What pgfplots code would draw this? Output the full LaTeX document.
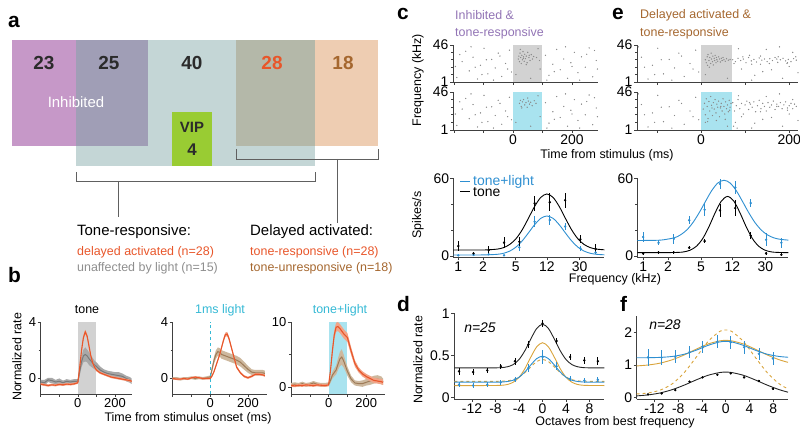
\documentclass[border=0pt]{standalone}
\usepackage{fontspec}
\setmainfont{Liberation Sans}
\usepackage{pgfplots}
\usepackage{pgfplotstable}
\pgfplotsset{compat=1.18}

\definecolor{cred}{HTML}{E8562A}
\definecolor{credband}{HTML}{F2A488}
\definecolor{cgreyline}{HTML}{7A7A7A}
\definecolor{cgreyband}{HTML}{A8A8A8}
\definecolor{cbrownline}{HTML}{9E7B58}
\definecolor{cbrownband}{HTML}{CDB89E}
\definecolor{ccyan}{HTML}{35B9D5}
\definecolor{ccyanbox}{HTML}{A9E3EF}
\definecolor{cboxgrey}{HTML}{D2D2D2}
\definecolor{cblue}{HTML}{2E8FD1}
\definecolor{cgold}{HTML}{D9A43C}
\definecolor{cpurptext}{HTML}{9274B5}
\definecolor{cbrowntext}{HTML}{A5672F}
\definecolor{cgreytext}{HTML}{8E8E8E}
\definecolor{cdot}{HTML}{8A8A8A}
\definecolor{cpurp}{HTML}{C698C8}
\definecolor{cover}{HTML}{A09EB6}
\definecolor{cteal}{HTML}{C4D6D6}
\definecolor{colive}{HTML}{B4B8A9}
\definecolor{cpeach}{HTML}{EECDB2}
\definecolor{cgreen}{HTML}{99CC33}
\definecolor{cline}{HTML}{606060}
\definecolor{cnum}{HTML}{2B2B2B}

\newcommand\fs[1]{\fontsize{#1}{#1}\selectfont}

\pgfplotsset{
  base/.style={scale only axis, anchor=south west, axis lines=left,
    axis line style={-, line width=0.6bp, black!75},
    tick align=outside, major tick length=3bp, minor tick length=2bp,
    tick style={line width=0.6bp, black!75},
    /pgf/number format/assume math mode=true,
    ticklabel style={font=\fs{14}, inner sep=1.5bp}},
  bax/.style={base, width=94bp, height=72bp, xmin=-200, xmax=300,
    ticklabel style={font=\fs{13}},
    xtick={-200,-100,0,100,200}, xticklabels={,,0,,200}},
  rax/.style={base, height=37bp, ymin=0, ymax=1, ytick={0,1}, yticklabels={1,46},
    minor ytick={0.2,0.4,0.6,0.8}},
  % frequency axis: x holds log10 of kHz
  tax/.style={base, width=151bp, height=79bp, ymin=-1, ymax=60,
    xtick={0,0.30103,0.69897,1.07918,1.47712}, xticklabels={1,2,5,12,30},
    ytick={0,60}, minor ytick={20,40}, ticklabel style={inner sep=1bp}},
  oax/.style={base, width=150bp, xmin=-15, xmax=10.5,
    xtick={-12,-8,-4,0,4,8}},
  errk/.style={only marks, mark=*, mark size=1bp, #1,
    error bars/y dir=both, error bars/y explicit, error bars/error mark=none,
    error bars/error bar style={line width=0.7bp}},
  fitline/.style={#1, line width=0.9bp, smooth, no marks},
  dots/.style={only marks, mark=*, mark size=0.4bp, cdot, mark options={draw=none, fill=cdot}},
  % band between (first stacked plot = lower edge, second = width, closed to it)
  lowedge/.style={draw=none, stack plots=y, forget plot},
  band/.style={fill=#1, draw=none, stack plots=y, forget plot},
}

% ---- panel b traces: time, red mean, red sem, other mean, other sem
\pgfplotstableread{
t r rs g gs
-200 -0.40 0.08 -0.25 0.15
-180 -0.45 0.08 -0.30 0.20
-160 -0.50 0.08 -0.10 0.15
-140 -0.45 0.08 -0.15 0.20
-120 -0.48 0.08 -0.25 0.15
-100 -0.42 0.08 -0.20 0.20
-80 -0.45 0.08 -0.30 0.15
-60 -0.40 0.08 -0.20 0.15
-40 -0.42 0.08 -0.25 0.15
-20 -0.38 0.08 -0.20 0.15
0 -0.30 0.08 -0.20 0.15
10 0.80 0.12 0.50 0.30
20 2.00 0.15 1.20 0.40
30 2.90 0.15 1.60 0.45
40 3.30 0.15 1.70 0.50
50 3.00 0.15 1.60 0.45
60 2.30 0.15 1.40 0.45
70 1.60 0.12 1.25 0.40
80 1.10 0.10 1.10 0.35
90 0.80 0.10 0.95 0.30
100 0.60 0.10 0.85 0.30
120 0.40 0.08 0.60 0.25
140 0.30 0.08 0.45 0.20
160 0.20 0.08 0.35 0.20
180 0.10 0.08 0.30 0.20
200 0.05 0.08 0.25 0.20
220 0.00 0.08 0.20 0.25
240 -0.05 0.08 0.15 0.20
260 -0.10 0.08 0.00 0.20
280 -0.15 0.08 -0.10 0.20
290 -0.20 0.08 -0.20 0.20
}\bone
\pgfplotstableread{
t r rs g gs
-200 0.00 0.06 0.00 0.10
-180 -0.05 0.06 0.00 0.10
-160 -0.05 0.06 -0.05 0.10
-140 0.00 0.06 0.00 0.10
-120 -0.05 0.06 0.00 0.10
-100 0.05 0.06 0.05 0.10
-80 0.10 0.06 0.00 0.10
-60 0.05 0.06 0.05 0.10
-40 0.00 0.06 0.00 0.10
-20 0.00 0.06 0.05 0.10
0 0.00 0.06 0.10 0.12
10 0.20 0.08 0.70 0.20
20 0.50 0.08 1.30 0.25
30 0.90 0.10 1.70 0.30
40 1.30 0.10 1.90 0.30
50 1.70 0.12 1.85 0.30
60 2.20 0.12 1.70 0.30
70 2.70 0.15 1.65 0.30
80 3.10 0.15 1.60 0.30
90 3.15 0.15 1.55 0.30
100 2.80 0.15 1.50 0.30
120 1.80 0.12 1.40 0.30
140 0.80 0.10 1.30 0.30
160 0.40 0.08 1.15 0.30
180 0.15 0.08 0.90 0.28
200 0.05 0.08 0.65 0.25
220 0.15 0.08 0.45 0.20
240 0.30 0.08 0.40 0.20
260 0.30 0.08 0.40 0.20
280 0.25 0.08 0.40 0.20
290 0.20 0.08 0.35 0.20
}\btwo
\pgfplotstableread{
t r rs g gs
-200 0.20 0.20 0.30 0.30
-180 0.15 0.20 0.40 0.30
-160 0.25 0.20 0.30 0.30
-140 0.20 0.20 0.50 0.30
-120 0.30 0.20 0.30 0.30
-100 0.25 0.20 0.40 0.30
-80 0.20 0.20 0.60 0.30
-60 0.30 0.20 0.40 0.30
-40 0.25 0.20 0.30 0.30
-20 0.20 0.20 0.30 0.30
0 0.30 0.20 0.40 0.30
10 2.50 0.40 1.00 0.40
20 5.50 0.60 1.80 0.50
30 8.00 0.70 2.20 0.60
40 9.20 0.70 2.60 0.70
50 9.30 0.70 3.50 0.90
60 9.00 0.70 4.30 1.10
70 8.60 0.70 4.60 1.20
80 8.20 0.70 4.00 1.00
90 7.90 0.70 3.20 0.80
100 7.60 0.70 2.40 0.70
120 5.50 0.60 1.20 0.50
140 3.60 0.50 0.60 0.40
160 2.60 0.40 0.50 0.40
180 2.00 0.40 0.50 0.50
200 1.60 0.40 0.70 0.50
220 1.30 0.40 0.90 0.60
240 1.00 0.40 1.10 0.60
260 0.90 0.40 1.20 0.60
280 0.80 0.40 1.00 0.60
290 0.70 0.40 0.80 0.50
}\bthree

% ---- raster dots (time, normalized frequency row)
\pgfplotstableread{
t y
-190 .12
-172 .55
-160 .83
-148 .30
-135 .67
-120 .08
-110 .45
-98 .91
-85 .22
-72 .61
-60 .38
-50 .78
-38 .15
-25 .50
-12 .86
-5 .27
110 .72
122 .18
135 .48
148 .88
160 .33
172 .62
185 .10
196 .52
208 .80
220 .25
232 .68
245 .40
258 .92
270 .14
282 .58
286 .35
-180 .74
-142 .95
-128 .40
-90 .60
-66 .05
-44 .70
-18 .35
115 .05
140 .28
178 .95
200 .42
226 .05
250 .75
276 .85
-195 .42
-105 .20
10 .20
85 .90
60 .10
92 .35
}\rbg
\pgfplotstableread{
t y
18 .62
20 .70
22 .55
24 .78
26 .66
28 .50
30 .72
32 .60
34 .82
36 .68
38 .56
40 .75
42 .63
45 .70
48 .52
50 .80
54 .66
58 .58
62 .74
66 .62
70 .69
25 .88
45 .47
35 .64
55 .72
80 .66
90 .58
}\rct
\pgfplotstableread{
t y
22 .70
25 .78
28 .62
32 .74
36 .80
40 .66
44 .72
48 .60
52 .76
56 .68
60 .73
65 .64
72 .77
78 .70
30 .58
50 .84
}\rcb
\pgfplotstableread{
t y
10 .60
12 .52
14 .68
15 .45
16 .74
18 .58
19 .40
20 .66
22 .50
23 .78
24 .62
26 .55
27 .70
28 .46
30 .64
31 .58
32 .72
34 .52
35 .66
36 .60
38 .56
40 .68
42 .62
44 .54
46 .64
48 .58
50 .66
52 .60
55 .56
58 .63
62 .59
66 .61
72 .60
78 .55
84 .64
90 .58
96 .62
102 .52
108 .66
114 .57
120 .61
126 .54
132 .65
138 .59
144 .62
150 .55
156 .63
162 .58
168 .66
174 .53
180 .60
186 .64
192 .57
198 .61
204 .55
210 .63
216 .59
75 .50
95 .68
115 .48
135 .70
155 .50
175 .68
195 .50
215 .68
}\ret
\pgfplotstableread{
t y
5 .55
8 .70
10 .40
12 .82
14 .62
16 .30
18 .75
20 .50
22 .88
24 .65
26 .38
28 .72
30 .55
32 .80
34 .45
36 .68
38 .60
40 .76
42 .35
44 .58
46 .70
48 .50
50 .82
52 .62
54 .42
56 .74
58 .56
60 .66
62 .48
64 .78
66 .60
68 .70
15 .22
35 .25
55 .28
25 .58
45 .62
65 .52
72 .72
76 .50
80 .64
84 .80
88 .56
92 .70
96 .42
100 .66
104 .76
108 .54
112 .68
116 .60
120 .74
124 .48
128 .64
132 .78
136 .56
140 .70
144 .62
148 .50
152 .72
156 .60
160 .66
164 .76
168 .54
172 .68
176 .62
180 .72
184 .56
188 .66
192 .74
196 .58
200 .64
204 .70
208 .56
212 .68
216 .62
74 .10
78 .20
82 .05
}\reb

% ---- tuning curves: measured points (f in kHz)
\pgfplotstableread{
f k ke b be
1 7.7 4 0.5 0.5
1.534 2.0 1 0.8 0.5
2.35 4.6 3 1.3 0.8
3.61 10.3 4 0.5 0.5
5.54 11.0 4 6.7 3
8.5 40.7 6 26.5 4
13.0 41.5 7 27.8 4
20.0 43.0 6 22.7 3
30.7 12.9 3 5.9 2
47 5.4 4 2.6 1
}\tunc
\pgfplotstableread{
f k ke b be
1 2.0 1 14.6 4
1.534 2.8 1 10.2 2
2.35 2.8 1 13.3 4
3.61 6.4 1 27.6 3
5.54 11.5 1.5 35.7 5
8.5 35.2 5 55.7 4
13.0 37.0 6 52.9 5
20.0 15.8 3 40.9 3
30.7 2.0 1 12.5 5
47 1.0 1 10.2 4
}\tune
% fitted curves
\pgfplotstableread{
f k b
0.87 4.60 0.80
1.5 4.60 0.80
2.12 4.67 0.85
3.0 5.33 1.31
3.57 6.50 2.12
4.24 8.96 3.83
5.05 13.4 6.91
6.0 20.2 11.65
7.13 29.0 17.75
8.49 38.2 24.13
10.09 45.2 29.03
12.0 47.9 30.9
14.27 45.2 29.03
16.97 38.2 24.13
20.18 29.0 17.75
24.0 20.2 11.65
28.5 13.4 6.91
33.9 8.96 3.83
40.4 6.50 2.12
48.0 5.33 1.31
60.0 4.78 0.92
}\fitc
\pgfplotstableread{
f k
0.85 2.60
1.31 2.60
1.86 2.61
2.63 2.77
3.12 3.20
3.71 4.51
4.41 7.55
5.25 13.4
6.24 22.5
7.42 33.3
8.83 42.4
10.5 46.0
12.49 42.4
14.85 33.3
17.66 22.5
21.0 13.4
24.97 7.55
29.7 4.51
35.3 3.20
42.0 2.77
57.0 2.60
}\fitek
\pgfplotstableread{
f b
0.85 12.0
1.19 12.04
1.68 12.35
2.375 14.05
2.82 16.25
3.36 20.0
3.99 25.7
4.75 33.3
5.65 41.9
6.72 50.3
7.99 56.3
9.5 58.5
11.3 56.3
13.43 50.3
15.98 41.9
19.0 33.3
22.6 25.7
26.9 20.0
31.9 16.25
38.0 14.05
45.2 12.9
57.0 12.26
}\fiteb

% ---- population tuning (octaves from BF)
\pgfplotstableread{
x k ke b be
-14.2 0.31 0.04 0.15 0.03
-11.8 0.30 0.04 0.14 0.03
-9.4 0.32 0.03 0.15 0.03
-7.1 0.37 0.03 0.18 0.03
-4.7 0.43 0.04 0.21 0.03
-2.4 0.63 0.04 0.35 0.05
0 0.88 0.04 0.48 0.08
2.4 0.67 0.04 0.37 0.05
4.7 0.48 0.04 0.22 0.03
7.1 0.44 0.04 0.20 0.03
9.4 0.43 0.05 0.21 0.03
}\popd
\pgfplotstableread{
x k gs gd b
-15 0.350 0.140 0.190 0.180
-10 0.350 0.140 0.190 0.180
-8 0.351 0.141 0.190 0.180
-7 0.353 0.143 0.192 0.182
-6 0.363 0.152 0.196 0.188
-5 0.389 0.179 0.210 0.203
-4 0.449 0.237 0.240 0.239
-3 0.555 0.341 0.293 0.302
-2 0.694 0.478 0.362 0.385
-1 0.819 0.600 0.425 0.460
0 0.870 0.650 0.450 0.490
1 0.819 0.600 0.425 0.460
2 0.694 0.478 0.362 0.385
3 0.555 0.341 0.293 0.302
4 0.449 0.237 0.240 0.239
5 0.389 0.179 0.210 0.203
6 0.363 0.152 0.196 0.188
7 0.353 0.143 0.192 0.182
8 0.351 0.141 0.190 0.180
10.5 0.350 0.140 0.190 0.180
}\fitd
\pgfplotstableread{
x k ke b be
-13.1 0.10 0.02 1.23 0.25
-10.8 0.13 0.02 1.23 0.22
-8.5 0.23 0.02 1.25 0.20
-6.1 0.49 0.02 1.39 0.18
-3.9 0.62 0.02 1.56 0.18
-1.4 0.70 0.02 1.71 0.20
0.85 0.74 0.02 1.69 0.20
3.1 0.62 0.02 1.54 0.20
5.6 0.51 0.02 1.34 0.18
7.95 0.27 0.02 1.20 0.20
}\popf
\pgfplotstableread{
x k b gs gd
-15 0.054 1.220 0.970 0.113
-13 0.086 1.222 1.000 0.146
-11 0.146 1.232 1.058 0.234
-9 0.246 1.260 1.160 0.425
-7 0.383 1.328 1.306 0.764
-5 0.541 1.449 1.480 1.230
-3 0.683 1.598 1.640 1.713
-1 0.769 1.705 1.737 2.027
0 0.780 1.720 1.750 2.070
1 0.769 1.705 1.737 2.027
3 0.683 1.598 1.640 1.713
5 0.541 1.449 1.480 1.230
7 0.383 1.328 1.306 0.764
9 0.246 1.260 1.160 0.425
10.5 0.167 1.236 1.080 0.270
}\fitf

\begin{document}
\begin{tikzpicture}[x=1bp, y=1bp, tx/.style={inner sep=0pt}]
\path[use as bounding box] (0,0) rectangle (800,437);

% ================= panel a =================
\fill[cteal] (76,271) rectangle (315,397);
\fill[cpurp] (12,291) rectangle (76,397);
\fill[cover] (76,291) rectangle (148,397);
\fill[colive] (236,291) rectangle (315,397);
\fill[cpeach] (315,291) rectangle (378,397);
\fill[cgreen] (172,271) rectangle (212,325);
\draw[cline, line width=0.8bp] (76,265) -- (76,256) -- (315,256) -- (315,265);
\draw[cline, line width=0.8bp] (118,256) -- (118,220);
\draw[cline, line width=0.8bp] (236,288) -- (236,278) -- (378,278) -- (378,288);
\draw[cline, line width=0.8bp] (337,278) -- (337,214);
\node[tx, font=\bfseries\fs{19}, text=cnum] at (44,374) {23};
\node[tx, font=\bfseries\fs{19}, text=cnum] at (109,374) {25};
\node[tx, font=\bfseries\fs{19}, text=cnum] at (192,374) {40};
\node[tx, font=\bfseries\fs{19}, text=cred] at (272,374) {28};
\node[tx, font=\bfseries\fs{19}, text=cbrowntext] at (343,374) {18};
\node[tx, font=\fs{15}, text=white] at (76,335) {Inhibited};
\node[tx, font=\bfseries\fs{15}, text=cnum] at (192,310) {VIP};
\node[tx, font=\bfseries\fs{17}, text=cnum] at (192,287) {4};
\node[tx, anchor=west, font=\fs{15}] at (77,205) {Tone-responsive:};
\node[tx, anchor=west, font=\fs{12.5}, text=cred] at (77,185) {delayed activated (n=28)};
\node[tx, anchor=west, font=\fs{12.5}, text=cgreytext] at (77,169) {unaffected by light (n=15)};
\node[tx, anchor=west, font=\fs{15}] at (250,205) {Delayed activated:};
\node[tx, anchor=west, font=\fs{12.5}, text=cred] at (250,185) {tone-responsive (n=28)};
\node[tx, anchor=west, font=\fs{12.5}, text=cbrowntext] at (250,169) {tone-unresponsive (n=18)};

% panel letters
\node[tx, anchor=base west, font=\bfseries\fs{21}] at (8,409) {a};
\node[tx, anchor=base west, font=\bfseries\fs{21}] at (8,154) {b};
\node[tx, anchor=base west, font=\bfseries\fs{21}] at (397,417) {c};
\node[tx, anchor=base west, font=\bfseries\fs{21}] at (612,417) {e};
\node[tx, anchor=base west, font=\bfseries\fs{21}] at (397,125) {d};
\node[tx, anchor=base west, font=\bfseries\fs{21}] at (620,125) {f};

% ================= panel b =================
\begin{axis}[bax, at={(40.7bp,43bp)}, width=91bp, xmax=290, ymin=-1.1, ymax=4,
  ytick={0,4}, minor ytick={2}]
\addplot[fill=cboxgrey, draw=none] coordinates {(0,-1.1) (100,-1.1) (100,4) (0,4)};
\addplot[lowedge] table[x=t, y expr=\thisrow{g}-\thisrow{gs}] {\bone};
\addplot[band=cgreyband] table[x=t, y expr=2*\thisrow{gs}] {\bone} \closedcycle;
\addplot[cgreyline, line width=1bp] table[x=t, y=g] {\bone};
\addplot[lowedge] table[x=t, y expr=\thisrow{r}-\thisrow{rs}-\thisrow{g}-\thisrow{gs}] {\bone};
\addplot[band=credband] table[x=t, y expr=2*\thisrow{rs}] {\bone} \closedcycle;
\addplot[cred, line width=1.1bp] table[x=t, y=r] {\bone};
\end{axis}
\begin{axis}[bax, at={(172.7bp,43bp)}, ymin=-1.1, ymax=4, ytick={0,4}, minor ytick={2}]
\addplot[lowedge] table[x=t, y expr=\thisrow{g}-\thisrow{gs}] {\btwo};
\addplot[band=cbrownband] table[x=t, y expr=2*\thisrow{gs}] {\btwo} \closedcycle;
\addplot[cbrownline, line width=1bp] table[x=t, y=g] {\btwo};
\addplot[lowedge] table[x=t, y expr=\thisrow{r}-\thisrow{rs}-\thisrow{g}-\thisrow{gs}] {\btwo};
\addplot[band=credband] table[x=t, y expr=2*\thisrow{rs}] {\btwo} \closedcycle;
\addplot[cred, line width=1.1bp] table[x=t, y=r] {\btwo};
\addplot[ccyan, dashed, line width=1bp] coordinates {(0,-1.1) (0,4)};
\end{axis}
\begin{axis}[bax, at={(291bp,43bp)}, ymin=-1.1, ymax=10, ytick={0,10}, minor ytick={5}]
\addplot[fill=ccyanbox, draw=none] coordinates {(0,-1.1) (100,-1.1) (100,10) (0,10)};
\addplot[lowedge] table[x=t, y expr=\thisrow{g}-\thisrow{gs}] {\bthree};
\addplot[band=cbrownband] table[x=t, y expr=2*\thisrow{gs}] {\bthree} \closedcycle;
\addplot[cbrownline, line width=1bp] table[x=t, y=g] {\bthree};
\addplot[lowedge] table[x=t, y expr=\thisrow{r}-\thisrow{rs}-\thisrow{g}-\thisrow{gs}] {\bthree};
\addplot[band=credband] table[x=t, y expr=2*\thisrow{rs}] {\bthree} \closedcycle;
\addplot[cred, line width=1.1bp] table[x=t, y=r] {\bthree};
\end{axis}
\node[tx, font=\fs{12.5}] at (87,127) {tone};
\node[tx, font=\fs{12.5}, text=ccyan] at (220,127) {1ms light};
\node[tx, font=\fs{12.5}, text=ccyan] at (340,127) {tone+light};
\node[tx, font=\fs{12.5}, rotate=90] at (17,80) {Normalized rate};
\node[tx, font=\fs{12.5}] at (188,19) {Time from stimulus onset (ms)};

% ================= panel c / e rasters =================
\begin{axis}[rax, at={(453bp,355bp)}, width=145bp, xmin=-203, xmax=288,
  xtick={-200,-100,0,100,200}, xticklabels={}]
\addplot[fill=cboxgrey, draw=none] coordinates {(0,0) (100,0) (100,1) (0,1)};
\addplot[dots] table[x=t, y=y] {\rbg};
\addplot[dots] table[x=t, y=y] {\rct};
\end{axis}
\begin{axis}[rax, at={(453bp,307bp)}, width=145bp, height=38bp, xmin=-203, xmax=288,
  xtick={-200,-100,0,100,200}, xticklabels={,,0,,200}]
\addplot[fill=ccyanbox, draw=none] coordinates {(0,0) (100,0) (100,1) (0,1)};
\addplot[dots] table[x=t, y=y] {\rbg};
\addplot[dots] table[x=t, y=y] {\rcb};
\end{axis}
\begin{axis}[rax, at={(637bp,355bp)}, width=161bp, xmin=-145, xmax=220,
  xtick={-100,0,100,200}, xticklabels={}, restrict x to domain=-145:220]
\addplot[fill=cboxgrey, draw=none] coordinates {(0,0) (70,0) (70,1) (0,1)};
\addplot[dots] table[x=t, y=y] {\rbg};
\addplot[dots] table[x=t, y=y] {\ret};
\end{axis}
\begin{axis}[rax, at={(637bp,307bp)}, width=161bp, height=38bp, xmin=-145, xmax=220,
  xtick={-100,0,100,200}, xticklabels={,0,,200}, restrict x to domain=-145:220]
\addplot[fill=ccyanbox, draw=none] coordinates {(0,0) (70,0) (70,1) (0,1)};
\addplot[dots] table[x=t, y=y] {\rbg};
\addplot[dots] table[x=t, y=y] {\reb};
\end{axis}
\node[tx, anchor=west, font=\fs{12.5}, text=cpurptext] at (455,422) {Inhibited \&};
\node[tx, anchor=west, font=\fs{12.5}, text=cpurptext] at (455,404) {tone-responsive};
\node[tx, anchor=west, font=\fs{12.5}, text=cbrowntext] at (640,422) {Delayed activated \&};
\node[tx, anchor=west, font=\fs{12.5}, text=cbrowntext] at (640,404) {tone-responsive};
\node[tx, font=\fs{12.5}, rotate=90] at (418,357) {Frequency (kHz)};
\node[tx, font=\fs{12.5}] at (607,282) {Time from stimulus (ms)};

% ================= panel c / e tuning =================
\begin{axis}[tax, at={(453.3bp,179.7bp)}, xmin=-0.0605, xmax=1.778]
\addplot[fitline=cblue] table[x expr={log10(\thisrow{f})}, y=b] {\fitc};
\addplot[fitline=black] table[x expr={log10(\thisrow{f})}, y=k] {\fitc};
\addplot[errk=cblue] table[x expr={log10(\thisrow{f})}, y=b, y error=be] {\tunc};
\addplot[errk=black] table[x expr={log10(\thisrow{f})}, y=k, y error=ke] {\tunc};
\end{axis}
% legend
\draw[cblue, line width=1bp] (460,255) -- (470,255);
\node[tx, anchor=west, font=\fs{14}, text=cblue] at (473,255) {tone+light};
\draw[black, line width=1bp] (460,245) -- (470,245);
\node[tx, anchor=west, font=\fs{14}] at (473,245) {tone};
\begin{axis}[tax, at={(637.3bp,179.7bp)}, xmin=-0.0706, xmax=1.756]
\addplot[fitline=cblue] table[x expr={log10(\thisrow{f})}, y=b] {\fiteb};
\addplot[fitline=black] table[x expr={log10(\thisrow{f})}, y=k] {\fitek};
\addplot[errk=cblue] table[x expr={log10(\thisrow{f})}, y=b, y error=be] {\tune};
\addplot[errk=black] table[x expr={log10(\thisrow{f})}, y=k, y error=ke] {\tune};
\end{axis}
\node[tx, font=\fs{12.5}, rotate=90] at (418,222) {Spikes/s};
\node[tx, font=\fs{12.5}] at (615,158) {Frequency (kHz)};

% ================= panel d / f =================
\begin{axis}[oax, at={(454.3bp,38bp)}, height=85.7bp, ymin=-0.02, ymax=1,
  ytick={0,0.5,1}, yticklabels={0,0.5,1}]
\addplot[fitline=cgold] table[x=x, y=gs] {\fitd};
\addplot[fitline=cgold, dashed] table[x=x, y=gd] {\fitd};
\addplot[fitline=cblue] table[x=x, y=b] {\fitd};
\addplot[fitline=black!85] table[x=x, y=k] {\fitd};
\addplot[errk=cblue] table[x=x, y=b, y error=be] {\popd};
\addplot[errk=black] table[x=x, y=k, y error=ke] {\popd};
\end{axis}
\begin{axis}[oax, at={(636.7bp,37.7bp)}, width=151.3bp, height=83.4bp, ymin=-0.05, ymax=2.5,
  ytick={0,1,2}, yticklabels={0,1,2}]
\addplot[fitline=cgold, dashed] table[x=x, y=gd] {\fitf};
\addplot[fitline=cgold] table[x=x, y=gs] {\fitf};
\addplot[fitline=cblue] table[x=x, y=b] {\fitf};
\addplot[fitline=black!85] table[x=x, y=k] {\fitf};
\addplot[errk=cblue] table[x=x, y=b, y error=be] {\popf};
\addplot[errk=black] table[x=x, y=k, y error=ke] {\popf};
\end{axis}
\node[tx, font=\itshape\fs{14}] at (480,109) {n=25};
\node[tx, font=\itshape\fs{14}] at (665,112) {n=28};
\node[tx, font=\fs{12.5}, rotate=90] at (418,77) {Normalized rate};
\node[tx, font=\fs{12.5}] at (615,15) {Octaves from best frequency};
\end{tikzpicture}
\end{document}
